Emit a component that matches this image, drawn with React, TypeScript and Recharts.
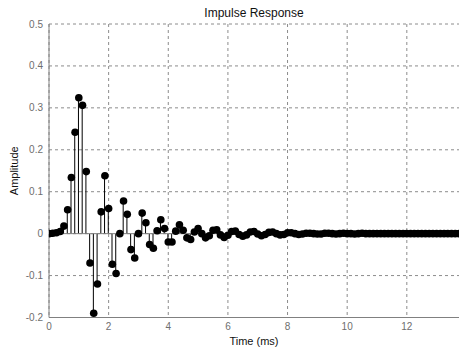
import {
  Bar,
  CartesianGrid,
  ComposedChart,
  ReferenceLine,
  Scatter,
  XAxis,
  YAxis,
} from "recharts";

// sample period 0.125 ms (8 kHz), 111 samples
const sampleStepMs = 0.125;

const amplitude = [
  0, 0.001, 0.002, 0.005, 0.018, 0.057, 0.134, 0.242, 0.324, 0.306,
  0.148, -0.07, -0.19, -0.12, 0.052, 0.138, 0.06, -0.073, -0.095, 0.0,
  0.078, 0.046, -0.038, -0.058, 0.0, 0.049, 0.026, -0.026, -0.035, 0.007,
  0.033, 0.012, -0.02, -0.02, 0.006, 0.021, 0.008, -0.01, -0.014, 0.004,
  0.012, 0.0, -0.01, -0.005, 0.008, 0.009, -0.003, -0.009, -0.004, 0.005,
  0.006, -0.002, -0.006, -0.003, 0.004, 0.005, -0.001, -0.005, -0.002, 0.003,
  0.004, 0.0, -0.003, -0.002, 0.002, 0.002, 0.0, -0.002, -0.001, 0.001,
  0.001, 0.0, -0.001, -0.001, 0.001, 0.001, 0.0, -0.001, 0.0, 0.001,
  0.0, 0.0, -0.001, 0.0, 0.001, 0.0, 0.0, 0.0, 0.0, 0.0,
  0.0, 0.0, 0.0, 0.0, 0.0, 0.0, 0.0, 0.0, 0.0, 0.0,
  0.0, 0.0, 0.0, 0.0, 0.0, 0.0, 0.0, 0.0, 0.0, 0.0,
  0.0,
];

const xTicks = [0, 2, 4, 6, 8, 10, 12];
const yTicks = [-0.2, -0.1, 0, 0.1, 0.2, 0.3, 0.4, 0.5];
const yTickLabels = ["-0.2", "-0.1", "0", "0.1", "0.2", "0.3", "0.4", "0.5"];

const data = amplitude.map((v, i) => ({ t: i * sampleStepMs, v }));

const AXIS = "#808080";
const GRID = "#8c8c8c";
const FONT = "'Liberation Sans', Arial, sans-serif";

function Marker(props: { cx?: number; cy?: number }) {
  const { cx, cy } = props;
  if (cx == null || cy == null) return null;
  return <circle cx={cx} cy={cy} r={3.8} fill="#000" />;
}

export default function App() {
  return (
    <div
      style={{
        position: "absolute",
        left: 0,
        top: 0,
        width: 460,
        height: 350,
        background: "#fff",
        fontFamily: FONT,
      }}
    >
      <div
        style={{
          position: "absolute",
          left: 49,
          width: 410,
          top: 6,
          textAlign: "center",
          fontSize: 12,
          color: "#111",
          lineHeight: "14px",
        }}
      >
        Impulse Response
      </div>
      <ComposedChart
        width={460}
        height={350}
        data={data}
        margin={{ top: 24, right: 1, bottom: 0, left: 0 }}
        barCategoryGap={0}
      >
        <CartesianGrid
          stroke={GRID}
          strokeDasharray="3 3"
          horizontalValues={yTicks}
          verticalValues={xTicks}
        />
        <XAxis
          dataKey="t"
          type="number"
          domain={[0, 13.75]}
          ticks={xTicks}
          allowDataOverflow
          height={32.5}
          stroke={AXIS}
          tickLine={false}
          tickSize={2}
          tickMargin={3}
          tick={{ fontSize: 10, fill: "#6e6e6e", fontFamily: FONT }}
          label={{
            value: "Time (ms)",
            position: "insideBottom",
            offset: 5,
            fontSize: 11,
            fill: "#111",
            fontFamily: FONT,
          }}
        />
        <XAxis
          xAxisId="top"
          orientation="top"
          dataKey="t"
          type="number"
          domain={[0, 13.75]}
          height={0}
          tick={false}
          tickLine={false}
          stroke={AXIS}
        />
        <YAxis
          type="number"
          domain={[-0.2, 0.5]}
          ticks={yTicks}
          allowDataOverflow
          width={49}
          stroke={AXIS}
          tickLine={false}
          tickSize={4}
          tickMargin={2}
          tickFormatter={(v: number) => yTickLabels[yTicks.indexOf(v)] ?? String(v)}
          tick={{ fontSize: 10, fill: "#6e6e6e", fontFamily: FONT }}
          label={{
            value: "Amplitude",
            angle: -90,
            position: "insideLeft",
            offset: 14,
            fontSize: 11,
            fill: "#111",
            fontFamily: FONT,
            style: { textAnchor: "middle" },
          }}
        />
        <ReferenceLine y={0} stroke={AXIS} strokeWidth={1} />
        <Bar dataKey="v" barSize={1} fill="#000" isAnimationActive={false} />
        <Scatter
          dataKey="v"
          shape={<Marker />}
          isAnimationActive={false}
        />
      </ComposedChart>
    </div>
  );
}
